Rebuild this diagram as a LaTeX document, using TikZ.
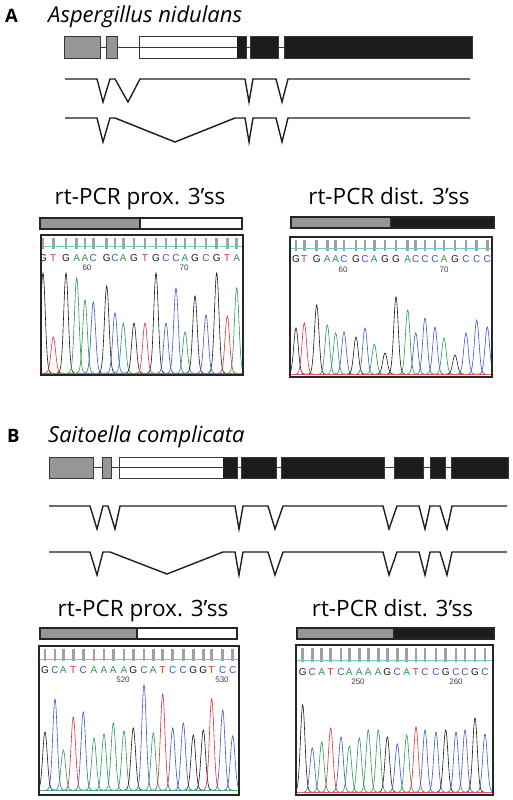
\documentclass[tikz,border=0pt]{standalone}
\usepackage{fontspec}
\setmainfont{Open Sans}
\newfontfamily\seqfont{Liberation Sans}
\usepackage{tikz}
\usetikzlibrary{positioning}
\definecolor{exgray}{RGB}{150,150,150}
\definecolor{exblack}{RGB}{28,28,28}
\definecolor{exline}{RGB}{55,55,55}
\definecolor{trA}{RGB}{40,150,85}
\definecolor{trC}{RGB}{60,85,205}
\definecolor{trG}{RGB}{25,25,25}
\definecolor{trT}{RGB}{225,45,55}
\definecolor{tickgray}{RGB}{160,160,160}
\definecolor{tealline}{RGB}{110,200,200}
\tikzstyle{every node}+=[inner sep=0pt]
\tikzstyle{panel} = [font=\fontsize{18.5}{22}\selectfont\bfseries, anchor=base west]
\tikzstyle{species} = [font=\fontsize{22}{26}\selectfont\itshape, anchor=base west]
\tikzstyle{title} = [font=\fontsize{22.5}{26}\selectfont, anchor=base]
\tikzstyle{exon} = [draw=exline, line width=1pt]
\tikzstyle{intron} = [draw=exline, line width=1pt]
\tikzstyle{splice} = [draw=black!88, line width=1.4pt, line join=miter]
\tikzstyle{bar} = [draw=black!85, line width=1.2pt]
\tikzstyle{chrom} = [draw=black!85, line width=1.8pt]
\tikzstyle{tick} = [fill=tickgray]
\tikzstyle{tealrule} = [draw=tealline, line width=0.8pt]
\tikzstyle{basecall} = [font=\fontsize{10}{11}\selectfont\seqfont]
\tikzstyle{posnum} = [font=\fontsize{8}{9}\selectfont\seqfont, text=black!75]
\tikzstyle{trace} = [line width=0.6pt]

\begin{document}
\begin{tikzpicture}[x=1pt, y=-1pt]
\useasboundingbox (0,0) rectangle (512,800);
% Panel A
\node [panel] (labA) at (5,23) {A};
\node [species] (spA) at (48,23) {Aspergillus nidulans};
% gene model A
\draw [intron] (64,48) -- (472,48);
\draw [exon, fill=exgray] (64,37) rectangle (100,59);
\draw [exon, fill=exgray] (106,37) rectangle (117,59);
\fill [exblack] (237,37) rectangle (246,59);
\draw [exon] (139,37) rectangle (246,59);
\draw [exon, fill=exblack] (250,37) rectangle (278,59);
\draw [exon, fill=exblack] (284,37) rectangle (472,59);
% splicing A
\draw [splice] (65,79) -- (97,79) -- (103,102) -- (110,79) -- (115,79) -- (128,102) -- (140,79)
  -- (245,79) -- (249,102) -- (253,79) -- (276,79) -- (282,102) -- (288,79) -- (470,79);
\draw [splice] (65,118) -- (97,118) -- (103,142) -- (110,118) -- (115,118) -- (175,142) -- (235,118)
  -- (245,118) -- (249,142) -- (253,118) -- (276,118) -- (282,142) -- (288,118) -- (470,118);

% rt-PCR prox. A
\node [title] (tAprox) at (140,204) {rt-PCR prox. 3’ss};
\draw [bar, fill=exgray] (40,218) rectangle (140,229);
\draw [bar, fill=white] (140,218) rectangle (242,229);
\begin{scope}
\clip (41,235) rectangle (243,375);
\def\yb{373}
\foreach \xc/\hc/\nc in {43/100/G, 53.3/36/T, 66/100/G, 76.7/95/A, 85/73/A, 93.3/71/C, 106.7/87/G, 115/60/C, 123.3/50/A, 134/50/G, 145/50/T, 156/100/G, 166/50/C, 176/85/C, 185/41/A, 195/77/G, 206/58/C, 216.7/100/G, 227.3/57/T, 236.7/85/A} {
  \fill [tick] (\xc-1.4,238) rectangle (\xc+1.4,249);
  \node [basecall, text=tr\nc] at (\xc,258) {\nc};
  \pgfmathsetmacro\lo{\xc-9}\pgfmathsetmacro\hi{\xc+9}
  \draw [trace, tr\nc] plot [domain=\lo:\hi, samples=31, smooth] (\x, {\yb-\hc*exp(-((\x-\xc)/3.2)^2)});
}
\draw [trace, trT!80] (41,\yb) -- (243,\yb);
\draw [tealrule] (41,246) -- (243,246);
\end{scope}
\node [posnum] (nA60) at (87,268) {60};
\node [posnum] (nA70) at (184,268) {70};
\draw [chrom] (41,235) rectangle (243,375);

% rt-PCR dist. A
\node [title] (tAdist) at (389,204) {rt-PCR dist. 3’ss};
\draw [bar, fill=exgray] (291,217) rectangle (391,228);
\draw [bar, fill=exblack] (391,217) rectangle (494,228);
\begin{scope}
\clip (290,237) rectangle (492,377);
\def\yb{374}
\foreach \xc/\hc/\nc in {296/46/G, 304.3/51/T, 316.7/69/G, 327.3/49/A, 335.7/41/A, 344/42/C, 356/37/G, 365/46/C, 374.3/30/A, 385/21/G, 396/77/G, 407.7/64/A, 415.7/41/C, 425/56/C, 435/47/C, 444/36/A, 455/19/G, 466/41/C, 476.7/54/C, 487.3/47/C} {
  \fill [tick] (\xc-1.4,240) rectangle (\xc+1.4,251);
  \node [basecall, text=tr\nc] at (\xc,259) {\nc};
  \pgfmathsetmacro\lo{\xc-9}\pgfmathsetmacro\hi{\xc+9}
  \draw [trace, tr\nc] plot [domain=\lo:\hi, samples=31, smooth] (\x, {\yb-\hc*exp(-((\x-\xc)/3.2)^2)});
}
\draw [trace, trT!80] (290,\yb) -- (492,\yb);
\draw [tealrule] (290,248) -- (492,248);
\end{scope}
\node [posnum] (nD60) at (343,270) {60};
\node [posnum] (nD70) at (444,270) {70};
\draw [chrom] (290,237) rectangle (492,377);

% Panel B
\node [panel] (labB) at (7,442) {B};
\node [species] (spB) at (48,442) {Saitoella complicata};
% gene model B
\draw [intron] (49,467.5) -- (508,467.5);
\draw [exon, fill=exgray] (49,457) rectangle (93,478);
\draw [exon, fill=exgray] (102,457) rectangle (111,478);
\fill [exblack] (223,457) rectangle (237,478);
\draw [exon] (119,457) rectangle (237,478);
\draw [exon, fill=exblack] (241,457) rectangle (276,478);
\draw [exon, fill=exblack] (281,457) rectangle (384,478);
\draw [exon, fill=exblack] (394,457) rectangle (423,478);
\draw [exon, fill=exblack] (430,457) rectangle (445,478);
\draw [exon, fill=exblack] (451,457) rectangle (508,478);
% splicing B
\draw [splice] (49,506) -- (90,506) -- (97,529) -- (103,506) -- (108,506) -- (115,529) -- (120,506)
  -- (235,506) -- (239,529) -- (243,506) -- (268,506) -- (275,529) -- (283,506)
  -- (383,506) -- (389,529) -- (397,506) -- (419,506) -- (425,529) -- (430,506)
  -- (440,506) -- (447,529) -- (452,506) -- (507,506);
\draw [splice] (49,552) -- (90,552) -- (97,575) -- (103,552) -- (110,552) -- (167,574) -- (223,552)
  -- (235,552) -- (239,575) -- (243,552) -- (268,552) -- (275,575) -- (283,552)
  -- (383,552) -- (389,575) -- (397,552) -- (419,552) -- (425,575) -- (430,552)
  -- (440,552) -- (447,575) -- (452,552) -- (507,552);

% rt-PCR prox. B
\node [title] (tBprox) at (143,616) {rt-PCR prox. 3’ss};
\draw [bar, fill=exgray] (40,628) rectangle (137,639);
\draw [bar, fill=white] (137,628) rectangle (237,639);
\begin{scope}
\clip (39,646) rectangle (239,795);
\def\yb{790}
\foreach \xc/\hc/\nc in {45/58/G, 55/91/C, 63.3/40/A, 73.3/73/T, 83.3/78/C, 94/52/A, 104/56/A, 113.3/67/A, 124/59/A, 133.3/62/G, 144/105/C, 153.3/57/A, 162.7/96/T, 172.7/62/C, 183.3/67/C, 193.3/55/G, 203.3/60/G, 211.7/91/T, 222.7/80/C, 232.7/54/C} {
  \fill [tick] (\xc-1.4,649) rectangle (\xc+1.4,661);
  \node [basecall, text=tr\nc] at (\xc,670) {\nc};
  \pgfmathsetmacro\lo{\xc-9}\pgfmathsetmacro\hi{\xc+9}
  \draw [trace, tr\nc] plot [domain=\lo:\hi, samples=31, smooth] (\x, {\yb-\hc*exp(-((\x-\xc)/3.2)^2)});
}
\draw [trace, trA!80] (39,\yb) -- (239,\yb);
\draw [tealrule] (39,659) -- (239,659);
\end{scope}
\node [posnum] (n520) at (123,680) {520};
\node [posnum] (n530) at (222,680) {530};
\draw [chrom] (39,646) rectangle (239,795);

% rt-PCR dist. B
\node [title] (tBdist) at (392.5,616) {rt-PCR dist. 3’ss};
\draw [bar, fill=exgray] (297,628) rectangle (394,639);
\draw [bar, fill=exblack] (394,628) rectangle (494,639);
\begin{scope}
\clip (296,645) rectangle (493,795);
\def\yb{792}
\foreach \xc/\hc/\nc in {302.7/87/G, 312.3/44/C, 321.7/50/A, 330.7/64/T, 341/55/C, 349.3/46/A, 359.3/54/A, 368.3/62/A, 378.3/62/A, 387.3/55/G, 397.3/48/C, 406.7/57/A, 416/65/T, 425/62/C, 436/60/C, 445.7/62/G, 456/60/C, 465/62/C, 475/74/G, 485/58/C} {
  \fill [tick] (\xc-1.4,648) rectangle (\xc+1.4,662);
  \node [basecall, text=tr\nc] at (\xc,672) {\nc};
  \pgfmathsetmacro\lo{\xc-9}\pgfmathsetmacro\hi{\xc+9}
  \draw [trace, tr\nc] plot [domain=\lo:\hi, samples=31, smooth] (\x, {\yb-\hc*exp(-((\x-\xc)/3.2)^2)});
}
\draw [trace, trT!80] (296,\yb) -- (493,\yb);
\draw [tealrule] (296,660) -- (493,660);
\end{scope}
\node [posnum] (n250) at (358,682) {250};
\node [posnum] (n260) at (456,682) {260};
\draw [chrom] (296,645) rectangle (493,795);
\end{tikzpicture}
\end{document}
